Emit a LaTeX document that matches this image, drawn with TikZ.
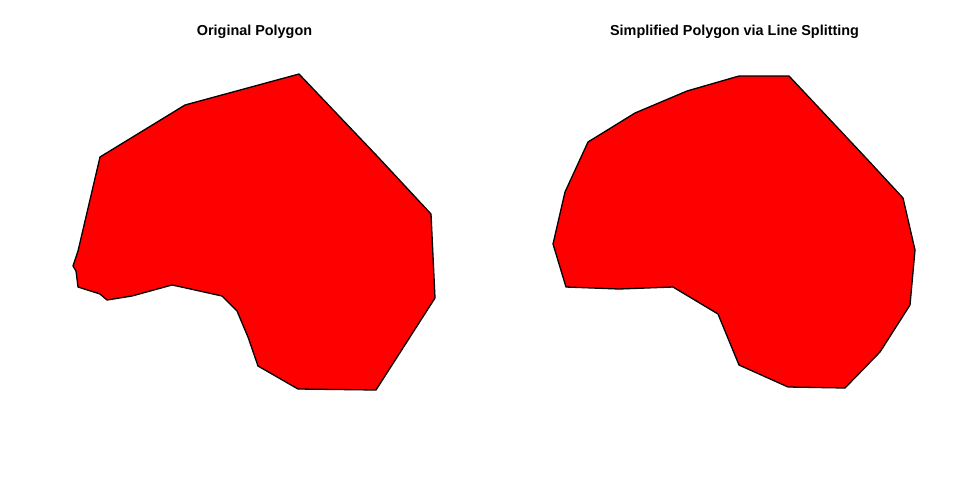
\documentclass[tikz,border=0pt]{standalone}
\usepackage{fontspec}
\setmainfont{Liberation Sans}
\begin{document}
\begin{tikzpicture}[x=1pt,y=-1pt,
  poly/.style={fill=red,draw=black,line width=1.3pt,line join=round},
  ttl/.style={font=\bfseries\fontsize{14.4}{16}\selectfont,anchor=base,inner sep=0pt}]
\useasboundingbox (0,0) rectangle (960,480);
\node[ttl] (t1) at (254.5,35) {Original Polygon};
\node[ttl] (t2) at (734.5,35) {Simplified Polygon via Line Splitting};
\draw[poly] (299,74) -- (378,157) -- (431,214) -- (435,298) -- (376,390) -- (298,389)
  -- (258,366) -- (248,337) -- (237,311) -- (222,296) -- (186,288) -- (172,285)
  -- (132,296) -- (107,300) -- (100,294) -- (78,287) -- (76,271) -- (73,266)
  -- (78,251) -- (100,157) -- (185,105) -- cycle;
\draw[poly] (739,76) -- (789,76) -- (866,158) -- (903,198) -- (915,250) -- (910,305)
  -- (880,352) -- (845,388) -- (788,387) -- (739,365) -- (718,314) -- (673,287)
  -- (619,289) -- (566,287) -- (553,244) -- (565,192) -- (588,142) -- (635,113)
  -- (687,91) -- cycle;
\end{tikzpicture}
\end{document}
